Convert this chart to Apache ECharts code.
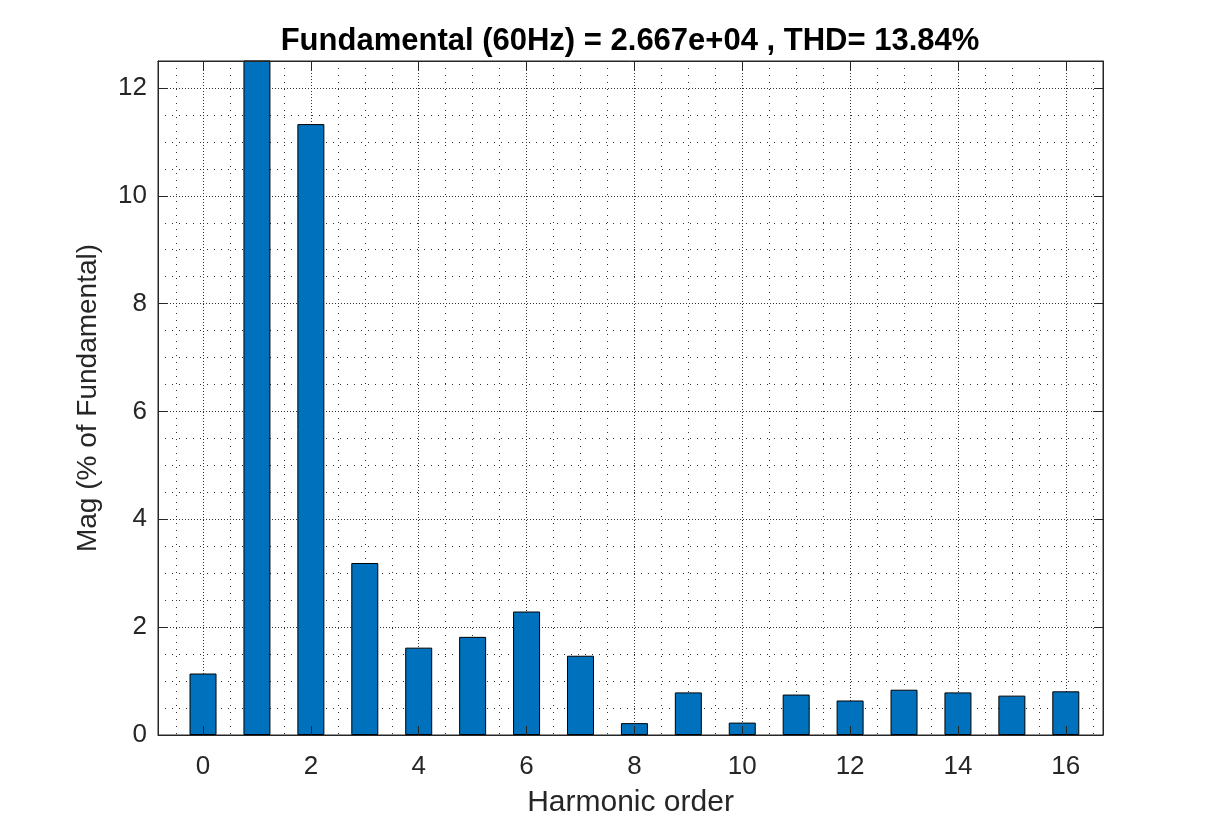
<!DOCTYPE html>
<html>
<head>
<meta charset="utf-8">
<script src="https://cdn.jsdelivr.net/npm/echarts@6/dist/echarts.min.js"></script>
<style>
  html, body { margin: 0; padding: 0; background: #fff; }
  #chart { width: 1215px; height: 823px; }
</style>
</head>
<body>
<div id="chart"></div>
<script>
// harmonic spectrum, values (order 1 = fundamental = 100%, clipped)
const harmonicOrder = [0, 1, 2, 3, 4, 5, 6, 7, 8, 9, 10, 11, 12, 13, 14, 15, 16]
const magPercent = [1.14, 100, 11.33, 3.19, 1.62, 1.82, 2.29, 1.47, 0.22, 0.79, 0.23, 0.75, 0.64, 0.84, 0.79, 0.73, 0.81]
const xTickLabels = [0, 2, 4, 6, 8, 10, 12, 14, 16]
const yTickLabels = [0, 2, 4, 6, 8, 10, 12]

const titleText = 'Fundamental (60Hz) = 2.667e+04 , THD= 13.84%'
const axisColor = '#262626'
const fontFamily = 'Liberation Sans, Arial, Helvetica, sans-serif'

const xMin = -0.835
const xMax = 16.69

function tickAxisX(position) {
  return {
    type: 'value',
    position: position,
    min: xMin,
    max: xMax,
    splitNumber: 8,
    z: 10,
    axisLine: { show: true, onZero: false, lineStyle: { color: axisColor, width: 1 } },
    axisTick: { show: true, inside: true, length: 9, lineStyle: { color: axisColor, width: 1 } },
    axisLabel: { show: false },
    splitLine: { show: false },
  }
}

function tickAxisY(position) {
  return {
    type: 'value',
    position: position,
    min: 0,
    max: 12.5,
    interval: 2,
    z: 10,
    axisLine: { show: true, onZero: false, lineStyle: { color: axisColor, width: 1 } },
    axisTick: { show: true, inside: true, length: 9, lineStyle: { color: axisColor, width: 1 } },
    axisLabel: { show: false },
    splitLine: { show: false },
  }
}

const myChart = echarts.init(document.getElementById('chart'), null, { renderer: 'canvas' })
myChart.setOption({
  animation: false,
  backgroundColor: '#fff',
  title: {
    text: titleText,
    left: 630,
    top: 26,
    padding: 0,
    textAlign: 'center',
    textStyle: { fontFamily: fontFamily, fontSize: 31, fontWeight: 'bold', color: '#000' },
  },
  grid: {
    left: 158,
    right: 112,
    top: 61,
    bottom: 88,
    show: true,
    backgroundColor: '#fff',
    borderColor: axisColor,
    borderWidth: 1,
  },
  xAxis: [
    {
      type: 'value',
      position: 'bottom',
      min: xMin,
      max: xMax,
      splitNumber: 8,
      z: 0,
      name: 'Harmonic order',
      nameLocation: 'middle',
      nameGap: 53,
      nameTextStyle: { fontFamily: fontFamily, fontSize: 30, color: axisColor },
      axisLine: { show: false, onZero: false },
      axisTick: { show: false },
      axisLabel: {
        fontFamily: fontFamily,
        fontSize: 26,
        color: axisColor,
        margin: 19,
        formatter: (v) => (xTickLabels.includes(v) ? String(v) : ''),
      },
      splitLine: { show: true, lineStyle: { color: '#333', type: [1, 2], width: 1 } },
      minorTick: { show: false, splitNumber: 4 },
      minorSplitLine: { show: true, lineStyle: { color: '#333', type: [1, 6], width: 1 } },
    },
    tickAxisX('bottom'),
    tickAxisX('top'),
  ],
  yAxis: [
    {
      type: 'value',
      position: 'left',
      min: 0,
      max: 12.5,
      interval: 2,
      z: 0,
      name: 'Mag (% of Fundamental)',
      nameLocation: 'middle',
      nameGap: 56,
      nameTextStyle: { fontFamily: fontFamily, fontSize: 28, color: axisColor },
      axisLine: { show: false, onZero: false },
      axisTick: { show: false },
      axisLabel: {
        fontFamily: fontFamily,
        fontSize: 26,
        color: axisColor,
        margin: 11,
        formatter: (v) => (yTickLabels.includes(v) ? String(v) : ''),
      },
      splitLine: { show: true, lineStyle: { color: '#333', type: [1, 2], width: 1 } },
      minorTick: { show: false, splitNumber: 4 },
      minorSplitLine: { show: true, lineStyle: { color: '#333', type: [1, 6], width: 1 } },
    },
    tickAxisY('left'),
    tickAxisY('right'),
  ],
  series: [
    {
      name: 'Mag',
      type: 'bar',
      xAxisIndex: 0,
      yAxisIndex: 0,
      barWidth: 27,
      clip: true,
      z: 2,
      itemStyle: { color: '#0072BD', borderColor: '#000', borderWidth: 1 },
      data: harmonicOrder.map((h, i) => [h, magPercent[i]]),
    },
  ],
})
</script>
</body>
</html>
